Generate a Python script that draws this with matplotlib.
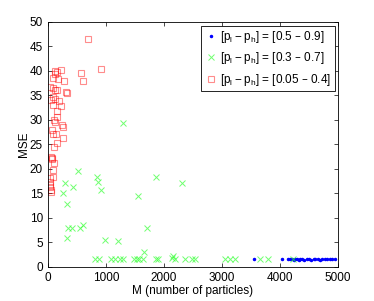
import matplotlib
matplotlib.use('Agg')
import matplotlib.pyplot as plt

plt.rcParams['font.family'] = 'Liberation Sans'
plt.rcParams['mathtext.default'] = 'regular'

# blue dots: [0.5 - 0.9]
blue_x = [3550, 4030, 4130, 4170, 4210, 4240, 4265, 4290, 4320, 4350, 4380, 4420,
          4460, 4500, 4540, 4580, 4610, 4650, 4690, 4730, 4770, 4810, 4860, 4900, 4940]
blue_y = [1.6, 1.6, 1.6, 1.6, 1.6, 1.5, 1.6, 1.6, 1.5, 1.6, 1.6, 1.5,
          1.6, 1.6, 1.5, 1.6, 1.6, 1.6, 1.5, 1.6, 1.6, 1.6, 1.6, 1.6, 1.6]

# green crosses: [0.3 - 0.7]
green_x = [512, 293, 253, 431, 322, 350, 408, 333, 552, 609, 839, 868, 908, 983,
           1213, 1546, 1701, 1661, 1862, 2316, 1287,
           810, 885, 1080, 1155, 1241, 1287, 1488, 1529, 1569, 1643, 1862, 1902,
           2132, 2150, 2190, 2362, 2477, 2534, 3052, 3138, 3224, 3655, 3799, 4230]
green_y = [19.6, 17.1, 15.2, 16.4, 12.9, 8.0, 8.0, 6.0, 8.0, 8.6, 18.4, 17.3, 15.7, 5.6,
           5.3, 14.4, 8.0, 3.1, 18.4, 17.1, 29.4,
           1.7, 1.7, 1.7, 1.7, 1.7, 1.7, 1.7, 1.7, 1.7, 1.7, 1.7, 1.7,
           1.8, 2.2, 1.7, 1.6, 1.7, 1.6, 1.6, 1.6, 1.6, 1.6, 1.6, 1.6]

# red squares: [0.05 - 0.4]
red_x = [695, 914, 574, 603, 333, 310, 224, 161, 121, 167, 276, 92, 121, 150,
         80, 121, 195, 218, 92, 149, 161, 121, 247, 264, 63, 80, 138, 264, 161, 103,
         60, 75, 100, 90, 80, 45, 40, 50, 55, 35, 30, 70, 110, 60, 40, 95, 130]
red_y = [46.5, 40.5, 39.6, 38.0, 35.6, 35.7, 40.2, 39.7, 39.3, 38.3, 37.9, 36.6, 36.2, 36.2,
         34.6, 34.2, 33.8, 32.9, 33.1, 31.8, 30.6, 29.5, 28.9, 28.6, 27.9, 27.1, 27.1, 26.4, 25.2, 24.5,
         22.5, 22.2, 21.2, 19.8, 18.4, 17.4, 16.4, 15.8, 15.3, 16.7, 18.1, 22.0, 30.0, 34.0, 36.8, 38.6, 39.9]

fig = plt.figure(figsize=(3.74, 3.01), dpi=100)
ax = fig.add_axes([0.128, 0.113, 0.776, 0.814])

ax.plot(blue_x, blue_y, '.', color='#0000ff', markersize=3,
        label='$[p_l - p_h]$ = [0.5 \u2013 0.9]')
ax.plot(green_x, green_y, 'x', color='#33ff33', alpha=0.7, markersize=4.5, markeredgewidth=0.7,
        label='$[p_l - p_h]$ = [0.3 \u2013 0.7]')
ax.plot(red_x, red_y, 's', markerfacecolor='none', markeredgecolor='#ff0000', alpha=0.45,
        markersize=5, markeredgewidth=0.8,
        label='$[p_l - p_h]$ = [0.05 \u2013 0.4]')

ax.set_xlim(0, 5000)
ax.set_ylim(0, 50)
ax.set_xticks([0, 1000, 2000, 3000, 4000, 5000])
ax.set_yticks(range(0, 51, 5))
ax.tick_params(direction='in', top=True, right=True, labelsize=8.5, length=3, width=0.5)
for s in ax.spines.values():
    s.set_linewidth(0.6)
ax.set_xlabel('M (number of particles)', fontsize=8.5, labelpad=1)
ax.set_ylabel('MSE', fontsize=8.5, labelpad=0)

leg = ax.legend(loc='upper right', fontsize=8.5, fancybox=False, edgecolor='black',
                framealpha=1, borderaxespad=0.3, handletextpad=0.3, handlelength=1.0,
                labelspacing=0.45, borderpad=0.3)
leg.get_frame().set_linewidth(0.6)

fig.savefig('out.png', dpi=100)
